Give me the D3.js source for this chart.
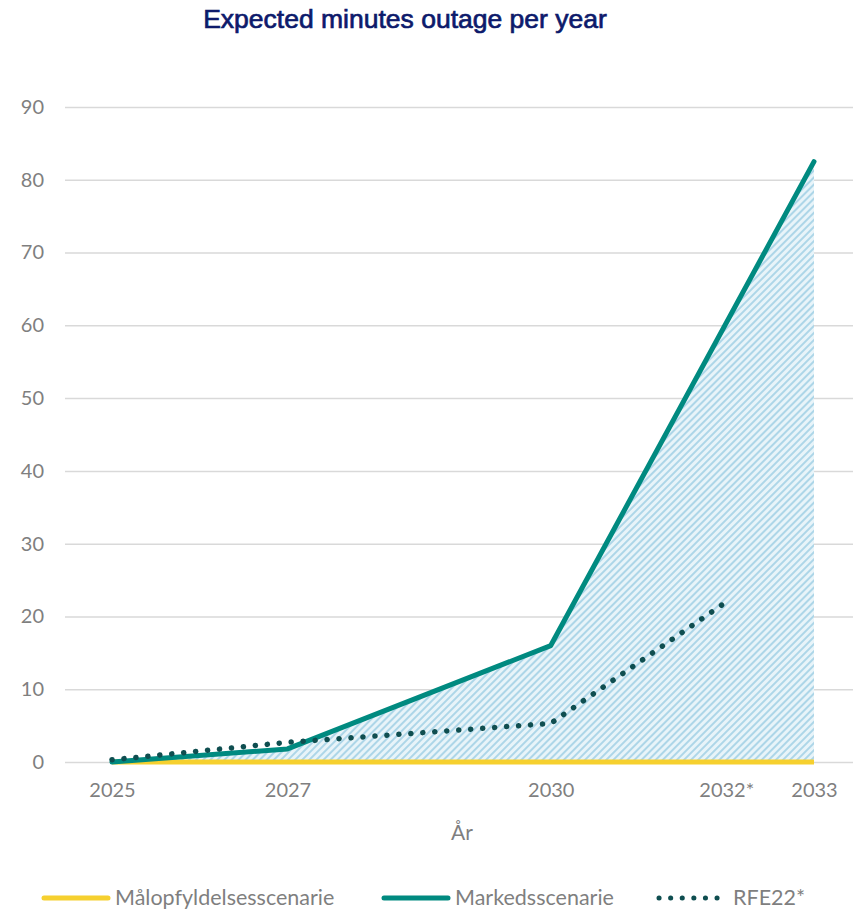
<!DOCTYPE html>
<html>
<head>
<meta charset="utf-8">
<script src="https://cdn.jsdelivr.net/npm/d3@7"></script>
<style>
  body { margin: 0; background: #fff; }
  svg { display: block; }
</style>
</head>
<body>
<div id="chart"></div>
<script>
// data
var years = [2025, 2027, 2030, 2033];
var tickYears = [2025, 2027, 2030, 2032, 2033];
var tickLabels = ["2025", "2027", "2030", "2032*", "2033"];
var yTicks = [0, 10, 20, 30, 40, 50, 60, 70, 80, 90];
var maalopfyldelse = [0, 0, 0, 0];
var markeds = [0, 1.8, 16, 82.5];
var rfeYears = [2025, 2027, 2030, 2032];
var rfe22 = [0.3, 2.7, 5.3, 22];
var legendNames = ["Målopfyldelsesscenarie", "Markedsscenarie", "RFE22*"];

var width = 853, height = 909;

var svg = d3.select("#chart").append("svg")
    .attr("width", width)
    .attr("height", height);

var defs = svg.append("defs");
var pat = defs.append("pattern")
    .attr("id", "hatch")
    .attr("patternUnits", "userSpaceOnUse")
    .attr("width", 5)
    .attr("height", 5)
    .attr("patternTransform", "rotate(-45)");
pat.append("rect").attr("width", 5).attr("height", 5).attr("fill", "#e8f4f9");
pat.append("rect").attr("width", 5).attr("height", 2).attr("fill", "#add6e8");

var x = d3.scaleLinear().domain([2025, 2033]).range([112, 814]);
var y = d3.scaleLinear().domain([0, 90]).range([762, 107]);

// title
svg.append("text")
    .attr("x", 405)
    .attr("y", 28)
    .attr("text-anchor", "middle")
    .attr("font-family", "Liberation Sans, Arial, sans-serif")
    .attr("font-size", 26.5)
    .attr("fill", "#0d1a6b")
    .attr("stroke", "#0d1a6b")
    .attr("stroke-width", 0.7)
    .text("Expected minutes outage per year");

// gridlines
var yAxis = d3.axisLeft(y)
    .tickValues(yTicks)
    .tickSize(-(width - 65))
    .tickPadding(21);
var gy = svg.append("g")
    .attr("transform", "translate(65,0)")
    .call(yAxis);
gy.select(".domain").remove();
gy.selectAll(".tick line").attr("stroke", "#d9d9d9").attr("stroke-width", 1.5);
gy.selectAll(".tick text")
    .attr("font-family", "Lato, sans-serif")
    .attr("font-size", 20)
    .attr("fill", "#7f7f7f");

// hatched area under Markedsscenarie
var mData = years.map(function (d, i) { return { x: d, y: markeds[i] }; });
var area = d3.area()
    .x(function (d) { return x(d.x); })
    .y0(y(0))
    .y1(function (d) { return y(d.y); });
svg.append("path")
    .datum(mData)
    .attr("d", area)
    .attr("fill", "url(#hatch)");

var line = d3.line()
    .x(function (d) { return x(d.x); })
    .y(function (d) { return y(d.y); });

// Målopfyldelsesscenarie
svg.append("path")
    .datum(years.map(function (d, i) { return { x: d, y: maalopfyldelse[i] }; }))
    .attr("d", line)
    .attr("fill", "none")
    .attr("stroke", "#f6d02f")
    .attr("stroke-width", 5);

// Markedsscenarie
svg.append("path")
    .datum(mData)
    .attr("d", line)
    .attr("fill", "none")
    .attr("stroke", "#008a80")
    .attr("stroke-width", 5)
    .attr("stroke-linecap", "round")
    .attr("stroke-linejoin", "round");

// RFE22*
svg.append("path")
    .datum(rfeYears.map(function (d, i) { return { x: d, y: rfe22[i] }; }))
    .attr("d", line)
    .attr("fill", "none")
    .attr("stroke", "#0f4e50")
    .attr("stroke-width", 5.5)
    .attr("stroke-linecap", "round")
    .attr("stroke-dasharray", "0.1 11.9");

// x axis labels
var xAxis = d3.axisBottom(x)
    .tickValues(tickYears)
    .tickFormat(function (d, i) { return tickLabels[i]; })
    .tickSize(0)
    .tickPadding(21);
var gx = svg.append("g")
    .attr("transform", "translate(0,762)")
    .call(xAxis);
gx.select(".domain").remove();
gx.selectAll(".tick text")
    .attr("font-family", "Lato, sans-serif")
    .attr("font-size", 20)
    .attr("fill", "#7f7f7f");

svg.append("text")
    .attr("x", 462)
    .attr("y", 840)
    .attr("text-anchor", "middle")
    .attr("font-family", "Lato, sans-serif")
    .attr("font-size", 21)
    .attr("fill", "#7f7f7f")
    .text("År");

// legend
var legendX = [42, 382, 657];
var legendStyles = [
    { stroke: "#f6d02f", dash: null, w: 5 },
    { stroke: "#008a80", dash: null, w: 5 },
    { stroke: "#0f4e50", dash: "0.1 11.5", w: 5 }
];
var lg = svg.append("g").selectAll("g")
    .data(legendNames)
    .enter().append("g")
    .attr("transform", function (d, i) { return "translate(" + legendX[i] + ",898)"; });
lg.append("line")
    .attr("x1", 2).attr("x2", 66)
    .attr("stroke", function (d, i) { return legendStyles[i].stroke; })
    .attr("stroke-width", function (d, i) { return legendStyles[i].w; })
    .attr("stroke-linecap", "round")
    .attr("stroke-dasharray", function (d, i) { return legendStyles[i].dash; });
lg.append("text")
    .attr("x", function (d, i) { return i == 2 ? 76 : 73; })
    .attr("y", 7)
    .attr("font-family", "Lato, sans-serif")
    .attr("font-size", 21.5)
    .attr("fill", "#7f7f7f")
    .text(function (d) { return d; });
</script>
</body>
</html>
